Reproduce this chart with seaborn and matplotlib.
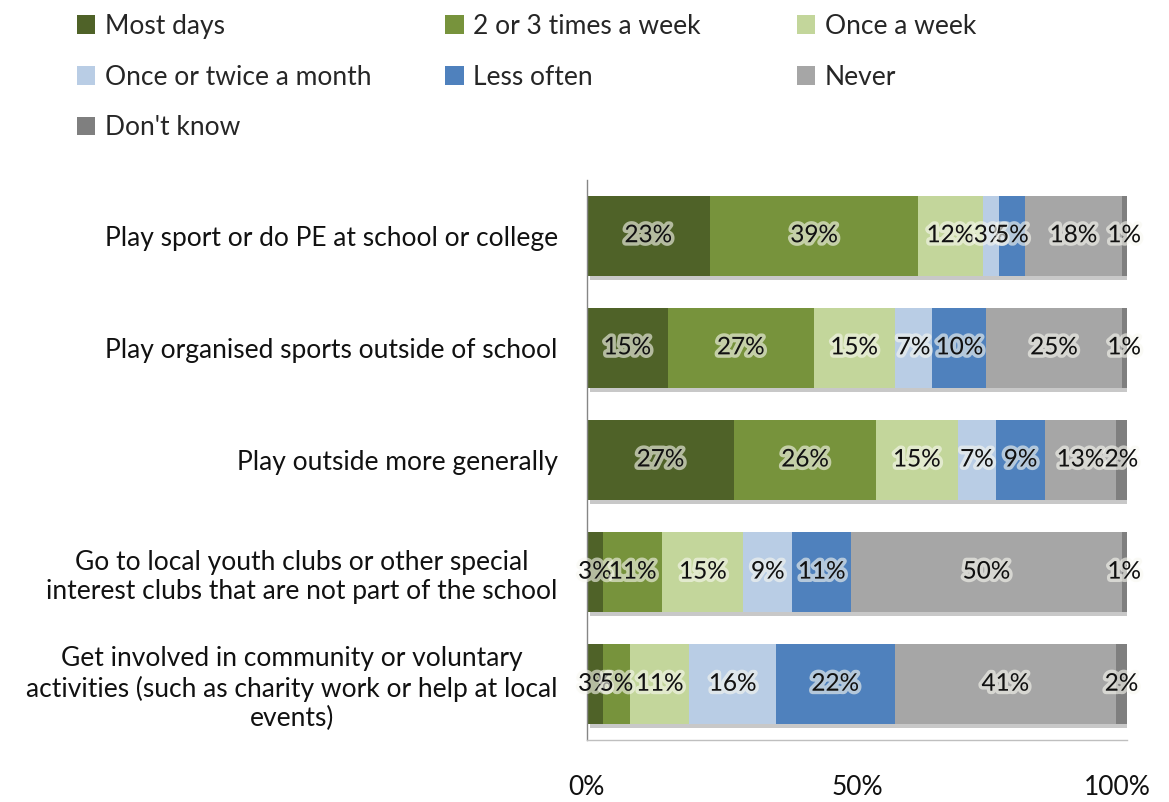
import matplotlib
matplotlib.use("Agg")
import matplotlib.pyplot as plt
import matplotlib.patheffects as pe
import matplotlib.transforms as mtransforms
from matplotlib.patches import Patch
import numpy as np
import pandas as pd
import seaborn as sns

activities = [
    "Play sport or do PE at school or college",
    "Play organised sports outside of school",
    "Play outside more generally",
    "Go to local youth clubs or other special\ninterest clubs that are not part of the school",
    "Get involved in community or voluntary\nactivities (such as charity work or help at local\nevents)",
]
frequencies = ["Most days", "2 or 3 times a week", "Once a week",
               "Once or twice a month", "Less often", "Never", "Don't know"]
most_days = [23, 15, 27, 3, 3]
two_three_week = [39, 27, 26, 11, 5]
once_week = [12, 15, 15, 15, 11]
once_twice_month = [3, 7, 7, 9, 16]
less_often = [5, 10, 9, 11, 22]
never = [18, 25, 13, 50, 41]
dont_know = [1, 1, 2, 1, 2]
tick_labels = ["0%", "50%", "100%"]

colors = ["#4F6228", "#77933C", "#C3D69B", "#B9CDE5", "#4F81BD", "#A6A6A6", "#7F7F7F"]

sns.set_theme(style="white")
plt.rcParams["font.family"] = ["Lato", "DejaVu Sans"]

values = np.array([most_days, two_three_week, once_week, once_twice_month,
                   less_often, never, dont_know], dtype=float).T
shares = values / values.sum(axis=1, keepdims=True) * 100
cum = np.cumsum(shares, axis=1)

df = pd.DataFrame(cum, columns=frequencies)
df["activity"] = activities

fig = plt.figure(figsize=(11.69, 8.02), dpi=100)
ax = fig.add_axes([0.502, 0.077, 0.462, 0.699])

# 100% stacked bars: draw cumulative totals from the right-most segment inward
for i in range(len(frequencies) - 1, -1, -1):
    sns.barplot(data=df, x=frequencies[i], y="activity", order=activities,
                color=colors[i], saturation=1, width=0.71, ax=ax,
                linewidth=0, orient="y")
    if i == len(frequencies) - 1:
        for p in ax.patches:
            p.set_path_effects([pe.SimplePatchShadow(offset=(2, -3), alpha=0.25),
                                pe.Normal()])

halo = [pe.withStroke(linewidth=5, foreground="#f8f8f0", alpha=0.6)]
for r in range(len(activities)):
    for c in range(len(frequencies)):
        left = cum[r, c] - shares[r, c]
        ax.text(left + shares[r, c] / 2, r, f"{int(values[r, c])}%",
                ha="center", va="center", fontsize=17.5, color="#111111",
                path_effects=halo, zorder=5)

ax.set_xlim(0, 100)
ax.set_ylim(len(activities) - 0.5, -0.5)
ax.set_xticks([0, 50, 100])
ax.set_xticklabels(tick_labels)
ax.set_xlabel("")
ax.set_ylabel("")
ax.tick_params(axis="x", length=0, pad=25, labelsize=19)
ax.tick_params(axis="y", length=0, pad=21, labelsize=19)
for lab in ax.get_yticklabels():
    lab.set_multialignment("center")
    lab.set_color("#111111")
xlabs = ax.get_xticklabels()
for lab in xlabs:
    lab.set_color("#111111")
xlabs[-1].set_transform(xlabs[-1].get_transform() +
                        mtransforms.ScaledTranslation(-0.1, 0, fig.dpi_scale_trans))

for s in ["top", "right"]:
    ax.spines[s].set_visible(False)
ax.spines["left"].set_color("#868686")
ax.spines["bottom"].set_color("#BFBFBF")
ax.spines["left"].set_linewidth(1)
ax.spines["bottom"].set_linewidth(1)

handles = [Patch(facecolor=col, edgecolor="none") for col in colors]
columns = [[0, 3, 6], [1, 4], [2, 5]]
col_x = [0.054, 0.369, 0.670]
for idx, x0 in zip(columns, col_x):
    fig.legend([handles[k] for k in idx], [frequencies[k] for k in idx],
               loc="upper left", bbox_to_anchor=(x0, 1.0), frameon=False,
               fontsize=19, handlelength=0.7, handleheight=0.7,
               handletextpad=0.35, labelspacing=0.98, borderaxespad=0.12)

fig.savefig("out.png", dpi=100)
